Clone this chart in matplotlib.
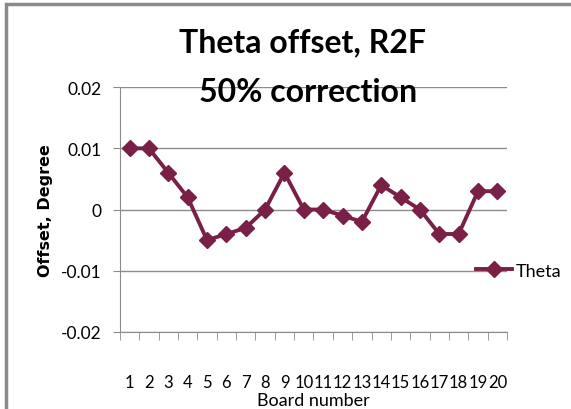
import matplotlib.pyplot as plt
from matplotlib.patches import Rectangle

# data
boards = list(range(1, 21))
theta = [0.010, 0.010, 0.006, 0.002, -0.005, -0.004, -0.003, 0.000, 0.006, 0.000,
         0.000, -0.001, -0.002, 0.004, 0.002, 0.000, -0.004, -0.004, 0.003, 0.003]
y_ticks = [-0.02, -0.01, 0, 0.01, 0.02]
y_labels = ["-0.02", "-0.01", "0", "0.01", "0.02"]

narrow = ["Lato", "DejaVu Sans"]
line_color = "#7a1f45"
grid_color = "#8c8c8c"

fig = plt.figure(figsize=(5.71, 4.10), dpi=100)
ax = fig.add_axes([0.210, 0.188, 0.678, 0.597])

ax.plot(boards, theta, color=line_color, lw=2.8, marker="D", markersize=8,
        label="Theta", zorder=3)

ax.set_xlim(0.5, 20.5)
ax.set_ylim(-0.02, 0.02)
ax.set_yticks(y_ticks)
ax.set_yticklabels(y_labels, family=narrow, fontsize=12.5)
ax.set_xticks(boards)
ax.set_xticklabels([str(b) for b in boards], family=narrow, fontsize=12)
ax.set_xticks([b + 0.5 for b in range(0, 21)], minor=True)
ax.tick_params(axis="x", which="major", length=0, pad=30)
ax.tick_params(axis="x", which="minor", length=6, color=grid_color, direction="out")
ax.tick_params(axis="y", length=5, color=grid_color, pad=8)
ax.grid(axis="y", color=grid_color, lw=1)

for side in ["top", "right"]:
    ax.spines[side].set_visible(False)
for side in ["left", "bottom"]:
    ax.spines[side].set_color(grid_color)

ax.set_xlabel("Board number", family=narrow, fontsize=13, labelpad=2)
ax.set_ylabel("Offset, Degree", family="DejaVu Sans", fontsize=11.5,
              fontweight="bold", labelpad=6)

fig.text(0.530, 0.895, "Theta offset, R2F", family=narrow, fontsize=23,
         fontweight="bold", ha="center", va="center")
fig.text(0.540, 0.775, "50% correction", family=narrow, fontsize=23,
         fontweight="bold", ha="center", va="center")

leg = ax.legend(loc="center left", bbox_to_anchor=(0.92, 0.25), frameon=False,
                prop={"family": narrow, "size": 13}, handlelength=2.0,
                handletextpad=0.2, borderpad=0, borderaxespad=0)

# chart border
fig.patches.append(Rectangle((0.010, -0.02), 1.05, 1.008, transform=fig.transFigure,
                             fill=False, edgecolor="#8a8a8a", lw=2.5))

fig.savefig("out.png", dpi=100)
